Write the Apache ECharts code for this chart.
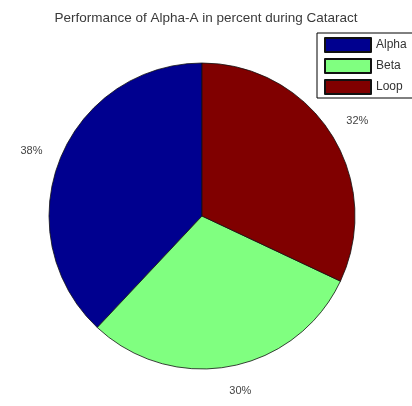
<!DOCTYPE html>
<html>
<head>
<meta charset="utf-8">
<script src="https://cdn.jsdelivr.net/npm/echarts@6/dist/echarts.min.js"></script>
<style>
  html, body { margin: 0; padding: 0; background: #fff; }
  #chart { width: 412px; height: 406px; }
</style>
</head>
<body>
<div id="chart"></div>
<script>
// Share of Alpha-A performance by phase
const titleText = 'Performance of Alpha-A in percent during Cataract';
const categories = ['Alpha', 'Beta', 'Loop'];
const values = [38, 30, 32];
const colors = ['#00008f', '#80ff80', '#800000'];

const chart = echarts.init(document.getElementById('chart'), null, { renderer: 'canvas' });

const total = values.reduce((a, b) => a + b, 0);

chart.setOption({
  backgroundColor: '#ffffff',
  animation: false,
  title: {
    text: titleText,
    left: 'center',
    top: 6,
    textStyle: {
      fontFamily: 'Liberation Sans, Arial, sans-serif',
      fontSize: 13.5,
      fontWeight: 'normal',
      color: '#3a3a3a'
    }
  },
  legend: {
    orient: 'vertical',
    left: 317,
    top: 33,
    padding: [4, 40, 3, 7],
    itemWidth: 46,
    itemHeight: 14,
    itemGap: 5,
    borderColor: '#000',
    borderWidth: 1,
    backgroundColor: '#fff',
    borderRadius: 0,
    icon: 'rect',
    textStyle: {
      fontFamily: 'Liberation Sans, Arial, sans-serif',
      fontSize: 12,
      color: '#333'
    },
    data: categories
  },
  series: [{
    type: 'pie',
    center: [202, 216],
    radius: [0, 153],
    startAngle: 90,
    clockwise: false,
    avoidLabelOverlap: false,
    itemStyle: {
      borderColor: '#111',
      borderWidth: 0.8
    },
    label: {
      show: true,
      position: 'outside',
      formatter: p => Math.round(p.value / total * 100) + '%',
      fontFamily: 'Liberation Sans, Arial, sans-serif',
      fontSize: 11,
      color: '#444'
    },
    labelLine: { show: false, length: 25, length2: 0 },
    // center each percentage label on its anchor point
    labelLayout: function (params) {
      const w = params.labelRect.width;
      if (params.align === 'left') return { dx: -w / 2 };
      if (params.align === 'right') return { dx: w / 2 };
      return {};
    },
    emphasis: { disabled: true },
    data: categories.map((name, i) => ({
      name: name,
      value: values[i],
      itemStyle: { color: colors[i] }
    }))
  }]
});
</script>
</body>
</html>
